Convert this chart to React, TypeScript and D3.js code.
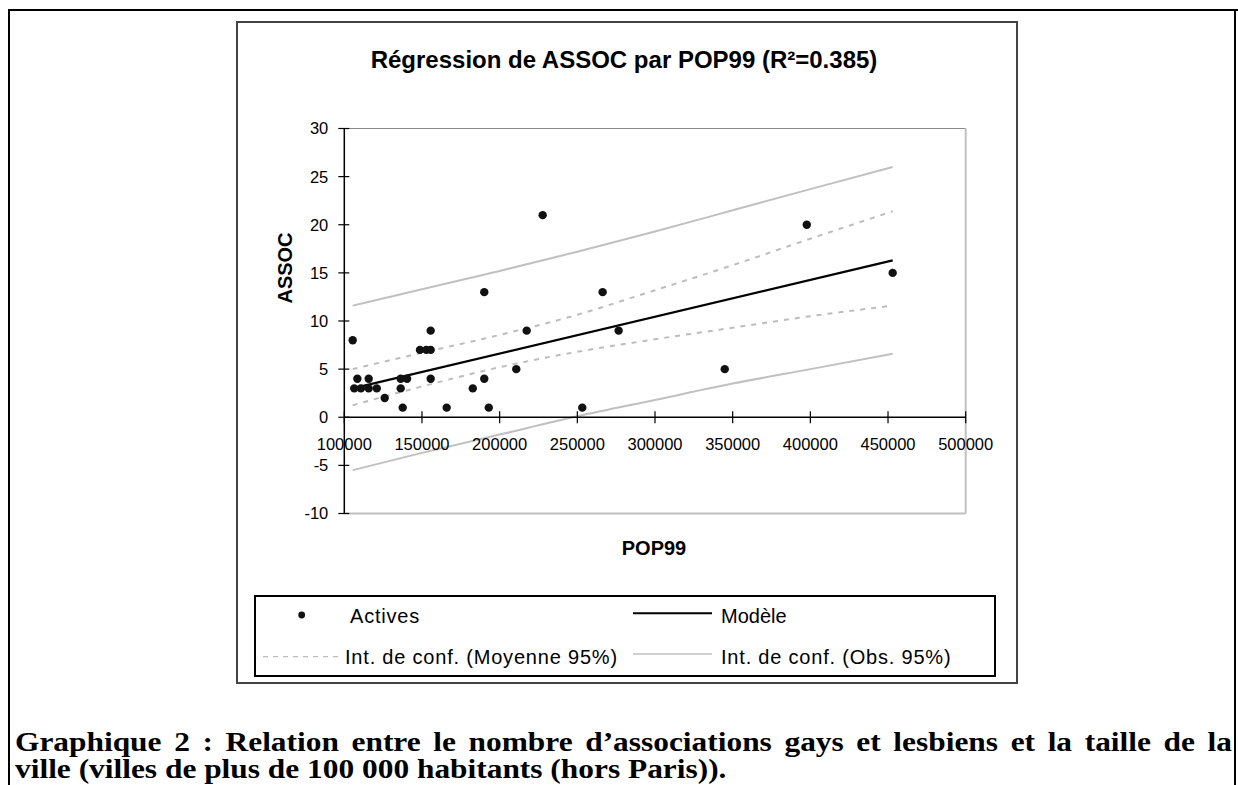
import { useRef, useLayoutEffect } from 'react';
import * as d3 from 'd3';

// Observed cities (population 1999, number of associations)
const POP99 = [
  105400, 106400, 108400, 110700, 115700, 115700, 120900, 126000, 136300, 136300,
  137600, 140400, 148700, 152800, 155600, 155600, 155600, 165900, 182700, 190100,
  190100, 193000, 210700, 217400, 227700, 253200, 266300, 276600, 344900, 397700, 453000,
];
const ASSOC = [
  8, 3, 4, 3, 4, 3, 3, 2, 4, 3,
  1, 4, 7, 7, 7, 9, 4, 1, 3, 13,
  4, 1, 5, 9, 21, 1, 13, 9, 5, 20, 15,
];

// Regression line and confidence bands
const MODEL_POP = [105400, 453000];
const MODEL_ASSOC = [3.0, 16.3];
const BAND_POP = [105400, 150000, 200000, 250000, 300000, 350000, 400000, 453000];
const MEAN_UPPER = [5.0, 6.7, 8.55, 10.65, 13.2, 15.8, 18.55, 21.4];
const MEAN_LOWER = [1.25, 3.2, 5.2, 6.8, 8.1, 9.3, 10.5, 11.6];
const OBS_UPPER = [11.6, 13.3, 15.2, 17.2, 19.3, 21.5, 23.7, 26.0];
const OBS_LOWER = [-5.5, -3.7, -1.8, 0.1, 1.8, 3.5, 5.0, 6.6];

const X_TICKS = [100000, 150000, 200000, 250000, 300000, 350000, 400000, 450000, 500000];
const Y_TICKS = [-10, -5, 0, 5, 10, 15, 20, 25, 30];

const TITLE = 'Régression de ASSOC par POP99 (R²=0.385)';
const CAPTION_1 = 'Graphique 2 : Relation entre le nombre d’associations gays et lesbiens et la taille de la';
const CAPTION_2 = 'ville (villes de plus de 100 000 habitants (hors Paris)).';

const PLOT = { left: 344.3, right: 965.7, top: 128.5, bottom: 513.5 };
const SANS = 'Arial, "Liberation Sans", Helvetica, sans-serif';
const SERIF = '"Times New Roman", "Liberation Serif", serif';

export default function App() {
  const capGroupRef = useRef<SVGGElement>(null);
  const cap1Ref = useRef<SVGTextElement>(null);
  const cap2Ref = useRef<SVGTextElement>(null);

  const x = d3.scaleLinear().domain([100000, 500000]).range([PLOT.left, PLOT.right]);
  const y = d3.scaleLinear().domain([-10, 30]).range([PLOT.bottom, PLOT.top]);

  const bandLine = (vals: number[]) =>
    d3
      .line<number>()
      .x((_, i) => x(BAND_POP[i]))
      .y((d) => y(d))
      .curve(d3.curveMonotoneX)(vals) || '';

  // caption glyphs are wide in the original; stretch, then justify line 1
  useLayoutEffect(() => {
    const g = capGroupRef.current;
    const l1 = cap1Ref.current;
    const l2 = cap2Ref.current;
    if (!g || !l1 || !l2) return;
    const sx = 712 / l2.getComputedTextLength();
    g.setAttribute('transform', `translate(15,0) scale(${sx},1)`);
    l1.style.wordSpacing = '0px';
    const natural = l1.getComputedTextLength();
    const spaces = (CAPTION_1.match(/ /g) || []).length;
    l1.style.wordSpacing = `${(1217 / sx - natural) / spaces}px`;
  }, []);

  const y0 = y(0);

  return (
    <svg
      width={1238}
      height={785}
      style={{ position: 'absolute', left: 0, top: 0, background: '#fff' }}
    >
      {/* page frame */}
      <line x1={8} y1={10} x2={1238} y2={10} stroke="#000" strokeWidth={2} />
      <line x1={9} y1={10} x2={9} y2={785} stroke="#000" strokeWidth={2} />
      <line x1={1235} y1={10} x2={1235} y2={785} stroke="#000" strokeWidth={2} />

      {/* chart area */}
      <rect x={237} y={22} width={780} height={661} fill="#fff" stroke="#444" strokeWidth={2} />

      <text x={624} y={68} textAnchor="middle" fontFamily={SANS} fontWeight="bold" fontSize={24}>
        {TITLE}
      </text>

      {/* plot area border */}
      <line x1={PLOT.left} y1={PLOT.top} x2={PLOT.right} y2={PLOT.top} stroke="#888" strokeWidth={1} />
      <line x1={PLOT.right} y1={PLOT.top} x2={PLOT.right} y2={PLOT.bottom} stroke="#c0c0c0" strokeWidth={2} />
      <line x1={PLOT.left} y1={PLOT.bottom} x2={PLOT.right} y2={PLOT.bottom} stroke="#c0c0c0" strokeWidth={2} />

      {/* confidence bands */}
      <path d={bandLine(OBS_UPPER)} fill="none" stroke="#c0c0c0" strokeWidth={2} />
      <path d={bandLine(OBS_LOWER)} fill="none" stroke="#c0c0c0" strokeWidth={2} />
      <path d={bandLine(MEAN_UPPER)} fill="none" stroke="#bdbdbd" strokeWidth={2} strokeDasharray="5,6" />
      <path d={bandLine(MEAN_LOWER)} fill="none" stroke="#bdbdbd" strokeWidth={2} strokeDasharray="5,6" />

      {/* y axis */}
      <line x1={PLOT.left} y1={PLOT.top} x2={PLOT.left} y2={PLOT.bottom} stroke="#000" strokeWidth={1.5} />
      {Y_TICKS.map((t) => (
        <g key={t}>
          <line x1={PLOT.left - 6} x2={PLOT.left + 5} y1={y(t)} y2={y(t)} stroke="#000" strokeWidth={1.2} />
          <text
            x={PLOT.left - 16}
            y={y(t)}
            dy="0.36em"
            textAnchor="end"
            fontFamily={SANS}
            fontSize={16.5}
          >
            {t}
          </text>
        </g>
      ))}

      {/* x axis at zero */}
      <line x1={PLOT.left} y1={y0} x2={PLOT.right} y2={y0} stroke="#000" strokeWidth={1.5} />
      {X_TICKS.map((t) => (
        <g key={t}>
          <line x1={x(t)} x2={x(t)} y1={y0 - 6} y2={y0 + 6} stroke="#000" strokeWidth={1.2} />
          <text x={x(t)} y={y0 + 33} textAnchor="middle" fontFamily={SANS} fontSize={16.5}>
            {t}
          </text>
        </g>
      ))}

      {/* model */}
      <line
        x1={x(MODEL_POP[0])}
        y1={y(MODEL_ASSOC[0])}
        x2={x(MODEL_POP[1])}
        y2={y(MODEL_ASSOC[1])}
        stroke="#000"
        strokeWidth={2.2}
      />

      {/* points */}
      {POP99.map((p, i) => (
        <circle key={i} cx={x(p)} cy={y(ASSOC[i])} r={4.2} fill="#111" />
      ))}

      {/* axis titles */}
      <text
        transform={`translate(292,268) rotate(-90)`}
        textAnchor="middle"
        fontFamily={SANS}
        fontWeight="bold"
        fontSize={20}
      >
        ASSOC
      </text>
      <text x={654} y={555} textAnchor="middle" fontFamily={SANS} fontWeight="bold" fontSize={20}>
        POP99
      </text>

      {/* legend */}
      <rect x={255} y={596} width={740} height={80} fill="#fff" stroke="#000" strokeWidth={2} />
      <circle cx={301.7} cy={615} r={3.4} fill="#111" />
      <text x={350} y={623} fontFamily={SANS} fontSize={20} letterSpacing={0.8}>
        Actives
      </text>
      <line x1={633} x2={712} y1={613.3} y2={613.3} stroke="#000" strokeWidth={2} />
      <text x={721} y={623} fontFamily={SANS} fontSize={20}>
        Modèle
      </text>
      <line x1={263} x2={340} y1={656.7} y2={656.7} stroke="#bdbdbd" strokeWidth={1.3} strokeDasharray="5,5" />
      <text x={345} y={663.5} fontFamily={SANS} fontSize={20} letterSpacing={0.8}>
        Int. de conf. (Moyenne 95%)
      </text>
      <line x1={633} x2={712} y1={654} y2={654} stroke="#c0c0c0" strokeWidth={1.5} />
      <text x={721} y={663.5} fontFamily={SANS} fontSize={20} letterSpacing={0.8}>
        Int. de conf. (Obs. 95%)
      </text>

      {/* caption */}
      <g ref={capGroupRef} transform="translate(15,0)">
        <text ref={cap1Ref} x={0} y={751} fontFamily={SERIF} fontWeight="bold" fontSize={27}>
          {CAPTION_1}
        </text>
        <text ref={cap2Ref} x={0} y={778} fontFamily={SERIF} fontWeight="bold" fontSize={27}>
          {CAPTION_2}
        </text>
      </g>
    </svg>
  );
}
